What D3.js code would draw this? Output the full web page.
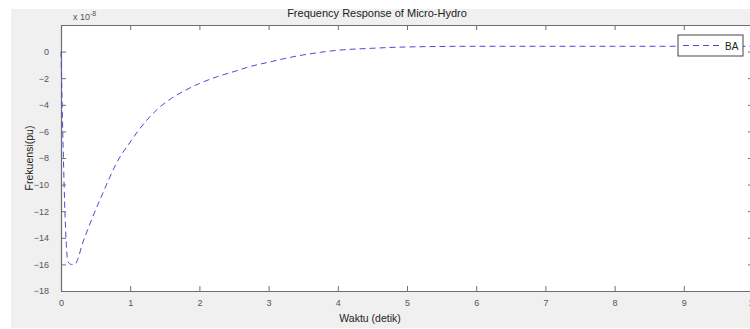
<!DOCTYPE html>
<html>
<head>
<meta charset="utf-8">
<script src="https://cdn.jsdelivr.net/npm/d3@7"></script>
<style>
  html, body { margin: 0; padding: 0; background: #fff; overflow: hidden; }
  svg { display: block; font-family: "Liberation Sans", Arial, sans-serif; }
</style>
</head>
<body>
<svg id="chart" width="750" height="329"></svg>
<script>
// time (s) and frequency deviation (x 1e-8 pu)
const waktu = [0, 0.03, 0.06, 0.1, 0.15, 0.2, 0.25, 0.3, 0.4, 0.5, 0.6, 0.7, 0.8, 1.0, 1.2, 1.4, 1.6, 1.8, 2.0, 2.25, 2.5, 2.75, 3.0, 3.25, 3.5, 3.75, 4.0, 4.5, 5, 6, 7, 8, 9, 10];
const frekuensi = [0, -7, -12.5, -15.8, -16, -16, -15.5, -14.6, -13.2, -11.9, -10.7, -9.5, -8.4, -6.8, -5.4, -4.3, -3.5, -2.9, -2.4, -1.9, -1.5, -1.1, -0.8, -0.5, -0.25, -0.05, 0.1, 0.25, 0.35, 0.4, 0.4, 0.4, 0.4, 0.4];
const xTicks = [0, 1, 2, 3, 4, 5, 6, 7, 8, 9, 10];
const yTicks = [0, -2, -4, -6, -8, -10, -12, -14, -16, -18];
const seriesName = 'BA';

const margin = { left: 61, top: 25, right: 753, bottom: 291 };
const svg = d3.select('#chart');

// figure background
svg.append('rect')
  .attr('x', 11).attr('y', 9)
  .attr('width', 739).attr('height', 319)
  .attr('fill', '#f0f0f0');

const x = d3.scaleLinear().domain([0, 10]).range([margin.left, margin.right]);
const y = d3.scaleLinear().domain([-18, 2]).range([margin.bottom, margin.top]);

// plot area
svg.append('rect')
  .attr('x', margin.left).attr('y', margin.top)
  .attr('width', margin.right - margin.left)
  .attr('height', margin.bottom - margin.top)
  .attr('fill', '#fff');

const axisColor = '#6e6e6e';
const tickLen = 5;

function styleAxis(g) {
  g.select('.domain').attr('stroke', axisColor).attr('stroke-width', 1.2);
  g.selectAll('.tick line').attr('stroke', axisColor);
  g.selectAll('.tick text')
    .attr('fill', '#555')
    .style('font-size', '9px')
    .style('font-family', '"Liberation Sans", Arial, sans-serif');
}

// bottom axis (ticks pointing inward)
svg.append('g')
  .attr('transform', 'translate(0,' + margin.bottom + ')')
  .call(d3.axisBottom(x).tickValues(xTicks).tickSize(-tickLen).tickSizeOuter(0).tickPadding(9))
  .call(styleAxis);

// top axis
svg.append('g')
  .attr('transform', 'translate(0,' + margin.top + ')')
  .call(d3.axisTop(x).tickValues(xTicks).tickSize(-tickLen).tickSizeOuter(0).tickFormat(''))
  .call(styleAxis);

// left axis
svg.append('g')
  .attr('transform', 'translate(' + margin.left + ',0)')
  .call(d3.axisLeft(y).tickValues(yTicks).tickSize(-tickLen).tickSizeOuter(0).tickPadding(12))
  .call(styleAxis);

// right axis
svg.append('g')
  .attr('transform', 'translate(' + margin.right + ',0)')
  .call(d3.axisRight(y).tickValues(yTicks).tickSize(-tickLen).tickSizeOuter(0).tickFormat(''))
  .call(styleAxis);

// exponent label
const expo = svg.append('text')
  .attr('x', margin.left + 12).attr('y', margin.top - 5)
  .attr('font-size', '9px').attr('fill', '#555');
expo.append('tspan').text('x 10');
expo.append('tspan').attr('dy', -4).attr('font-size', '7px').text('-8');

// title and axis labels
svg.append('text')
  .attr('x', 377).attr('y', 17)
  .attr('text-anchor', 'middle')
  .attr('font-size', '11px').attr('fill', '#222')
  .text('Frequency Response of Micro-Hydro');

svg.append('text')
  .attr('x', 370).attr('y', 322)
  .attr('text-anchor', 'middle')
  .attr('font-size', '10.5px').attr('fill', '#222')
  .text('Waktu (detik)');

svg.append('text')
  .attr('transform', 'translate(33,158) rotate(-90)')
  .attr('text-anchor', 'middle')
  .attr('font-size', '10.5px').attr('fill', '#222')
  .text('Frekuensi(pu)');

// data line
const lineColor = '#4a4ad8';
const data = waktu.map((t, i) => ({ t: t, v: frekuensi[i] }));
const line = d3.line()
  .x(d => x(d.t))
  .y(d => y(d.v))
  .curve(d3.curveMonotoneX);

svg.append('path')
  .datum(data)
  .attr('fill', 'none')
  .attr('stroke', lineColor)
  .attr('stroke-width', 1)
  .attr('stroke-dasharray', '6,4')
  .attr('d', line);

// legend
const lg = svg.append('g');
lg.append('rect')
  .attr('x', 678).attr('y', 35)
  .attr('width', 65).attr('height', 21)
  .attr('fill', '#fff')
  .attr('stroke', '#444').attr('stroke-width', 1);
lg.append('line')
  .attr('x1', 683).attr('x2', 722)
  .attr('y1', 45.5).attr('y2', 45.5)
  .attr('stroke', lineColor).attr('stroke-width', 1)
  .attr('stroke-dasharray', '6,4');
lg.append('text')
  .attr('x', 725).attr('y', 49.5)
  .attr('font-size', '10px').attr('fill', '#222')
  .text(seriesName);
</script>
</body>
</html>
